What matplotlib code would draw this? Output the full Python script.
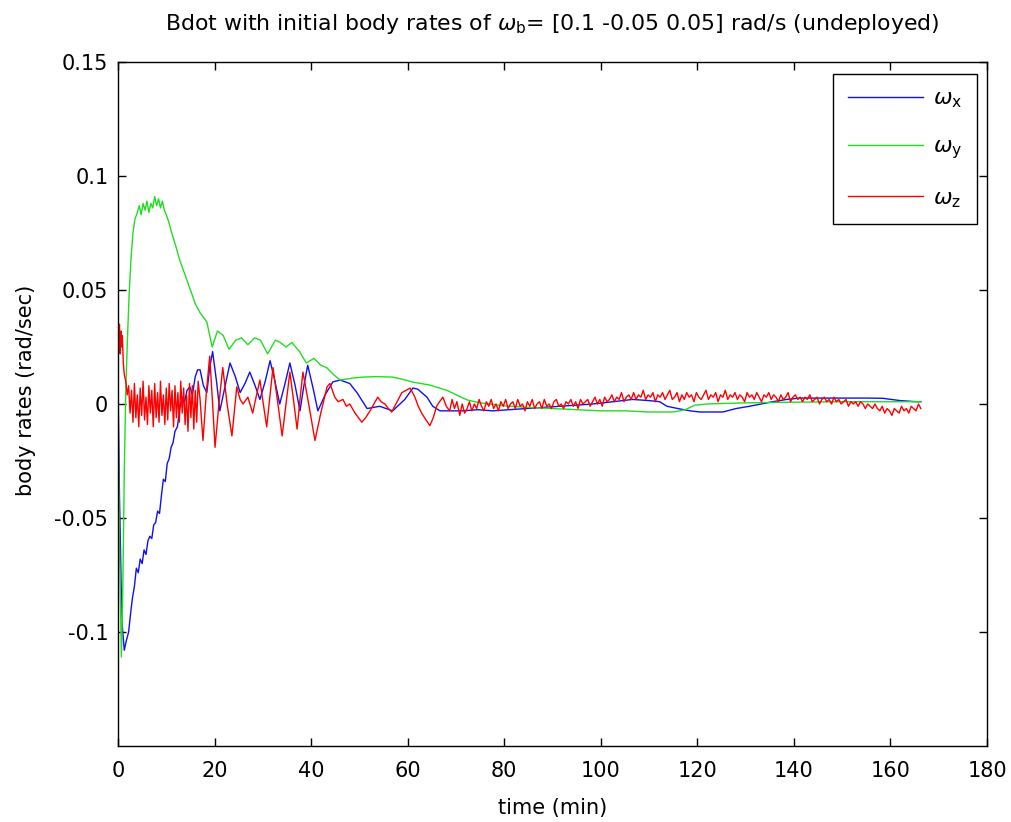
import numpy as np
import matplotlib
matplotlib.use("Agg")
import matplotlib.pyplot as plt

plt.rcParams['font.family'] = ['DejaVu Sans']
plt.rcParams['mathtext.fontset'] = 'dejavusans'

# ---------------- data ----------------
# omega_x (blue)
t_x = [0.0, 0.3, 0.8, 1.3, 1.7, 2.2, 2.6, 3.0, 3.4, 3.8,
       4.2, 4.6, 5.0, 5.4, 5.8, 6.2, 6.6, 7.0, 7.4, 7.8,
       8.2, 8.6, 9.0, 9.4, 9.8, 10.2, 10.6, 11.0, 11.4, 11.8,
       12.3, 12.8, 13.3, 13.8, 14.3, 14.9, 15.4, 16.0, 16.5, 17.0,
       17.7, 18.4, 19.0, 19.6, 20.4, 21.1, 22.2, 23.2, 24.3, 25.3,
       26.3, 27.3, 28.4, 29.4, 30.5, 31.5, 32.5, 33.5, 34.6, 35.6,
       36.7, 37.7, 38.5, 39.3, 40.4, 41.4, 42.9, 44.5, 46.0, 48.0,
       49.5, 51.6, 54.2, 56.9, 59.4, 61.1, 62.1, 64.0, 65.2, 66.7,
       69.0, 71.4, 74.5, 77.6, 81.0, 84.5, 88.0, 91.5, 95.0, 98.3,
       102.5, 106.6, 110.0, 112.2, 113.7, 116.0, 118.5, 120.5, 123.0, 125.3,
       128.0, 130.8, 133.2, 135.6, 138.5, 141.2, 146.0, 151.6, 155.0, 158.4,
       162.0, 165.4, 166.3]
w_x = [0.010, -0.040, -0.095, -0.108, -0.104, -0.100, -0.092, -0.085, -0.080, -0.072,
       -0.074, -0.068, -0.070, -0.064, -0.066, -0.060, -0.058, -0.059, -0.053, -0.052,
       -0.047, -0.048, -0.040, -0.033, -0.034, -0.026, -0.024, -0.019, -0.017, -0.012,
       -0.010, -0.002, 0.003, 0.001, 0.006, 0.0075, 0.004, 0.012, 0.015, 0.015,
       0.008, 0.005, 0.016, 0.023, 0.010, -0.003, 0.008, 0.018, 0.012, 0.005,
       0.009, 0.014, 0.008, 0.002, 0.010, 0.019, 0.010, 0.000, 0.009, 0.018,
       0.008, -0.003, 0.008, 0.017, 0.007, -0.003, 0.004, 0.0097, 0.0105, 0.009,
       0.005, -0.002, -0.001, -0.003, 0.002, 0.007, 0.0065, 0.003, -0.001, -0.003,
       -0.003, -0.003, -0.0025, -0.003, -0.0025, -0.002, -0.0015, -0.001, -0.0005, 0.0,
       0.001, 0.002, 0.0015, 0.001, -0.001, -0.002, -0.003, -0.0035, -0.0035, -0.0035,
       -0.002, -0.001, 0.0, 0.001, 0.002, 0.0026, 0.0026, 0.0026, 0.0026, 0.0025,
       0.0015, 0.001, 0.001]

# omega_y (green)
t_y = [0.0, 0.3, 0.7, 1.0, 1.3, 1.6, 1.9, 2.3, 2.7, 3.1,
       3.5, 4.0, 4.4, 4.8, 5.2, 5.6, 6.0, 6.4, 6.8, 7.2,
       7.6, 8.0, 8.4, 8.8, 9.2, 9.6, 10.0, 10.5, 11.0, 12.0,
       12.8, 14.0, 15.0, 16.0, 17.0, 18.4, 19.5, 20.6, 21.8, 23.0,
       24.4, 25.6, 26.9, 28.3, 29.5, 31.0, 32.6, 33.6, 34.8, 36.0,
       37.6, 39.0, 40.6, 42.0, 43.2, 44.6, 46.0, 48.7, 50.7, 53.5,
       56.9, 59.0, 61.1, 64.6, 68.1, 72.3, 75.0, 80.0, 85.0, 90.0,
       95.0, 100.0, 105.0, 110.0, 115.0, 117.5, 119.5, 122.0, 125.0, 130.0,
       140.0, 150.0, 160.0, 166.3]
w_y = [0.000, -0.060, -0.111, -0.080, -0.030, 0.005, 0.025, 0.048, 0.064, 0.075,
       0.081, 0.084, 0.087, 0.083, 0.088, 0.085, 0.089, 0.084, 0.088, 0.086,
       0.091, 0.087, 0.090, 0.086, 0.089, 0.085, 0.083, 0.080, 0.076, 0.069,
       0.063, 0.056, 0.050, 0.044, 0.040, 0.036, 0.025, 0.032, 0.030, 0.024,
       0.028, 0.029, 0.026, 0.029, 0.028, 0.022, 0.028, 0.027, 0.025, 0.027,
       0.023, 0.018, 0.020, 0.017, 0.016, 0.013, 0.0105, 0.0114, 0.0118, 0.0120,
       0.0118, 0.0108, 0.0096, 0.0083, 0.0060, 0.0018, 0.0005, -0.0008, -0.0015, -0.0020,
       -0.0025, -0.0030, -0.0030, -0.0035, -0.0035, -0.0025, -0.0005, 0.0000, 0.0002, 0.0005,
       0.0008, 0.0010, 0.0010, 0.0010]

# omega_z (red) - start, oscillating part, then sampled noisy tail
t_z_a = [0.0, 0.15, 0.3, 0.45, 0.6, 0.75, 0.9, 1.1, 1.3, 1.6, 1.9]
w_z_a = [0.033, 0.024, 0.035, 0.022, 0.032, 0.025, 0.030, 0.018, 0.013, 0.010, 0.004]

t_z_b0, t_z_bstep = 2.2, 0.3
w_z_b = [0.008, -0.004, 0.006, -0.008, 0.009, -0.006, 0.004, -0.010, 0.007, -0.005,
         0.010, -0.007, 0.003, -0.009, 0.008, -0.004, 0.006, -0.010, 0.009, -0.006,
         0.005, -0.008, 0.010, -0.005, 0.004, -0.009, 0.007, -0.007, 0.009, -0.003,
         0.006, -0.010, 0.008, -0.006, 0.005, -0.008, 0.010, -0.004, 0.007, -0.009,
         0.004, -0.012, 0.009, -0.006, 0.008, -0.011, 0.006, -0.008, 0.010]

t_z_c = [17.0, 17.6, 18.3, 19.0, 19.6, 20.1, 20.9, 21.7, 22.6, 23.6,
         24.6, 25.3, 25.9, 26.9, 27.9, 28.7, 29.4, 30.1, 30.8, 31.5,
         32.1, 33.0, 34.0, 34.8, 35.6, 36.4, 37.1, 37.7, 38.3, 39.5,
         40.8, 42.0, 43.3, 43.9, 44.9, 45.6, 46.6, 47.3, 48.0, 49.1,
         50.5, 51.3, 52.2, 53.0, 53.8, 54.5, 55.3, 56.0, 56.7, 57.8,
         58.8, 59.7, 60.5, 61.5, 62.2, 62.9, 63.8, 64.6, 65.3, 66.0,
         66.6, 67.3, 68.0, 68.7, 69.2, 69.7, 70.2, 70.8, 71.3, 71.8]
w_z_c = [0.002, -0.016, 0.005, 0.021, 0.000, -0.019, 0.000, 0.016, 0.000, -0.014,
         0.0075, 0.002, 0.000, 0.003, -0.004, 0.004, 0.0105, 0.000, -0.010, 0.004,
         0.016, 0.002, -0.014, 0.000, 0.014, 0.001, -0.011, 0.002, 0.014, 0.000,
         -0.016, -0.004, 0.0075, 0.009, 0.003, 0.001, 0.002, -0.001, 0.000, -0.004,
         -0.008, -0.006, -0.003, 0.000, 0.003, 0.001, 0.000, -0.002, -0.0035, 0.001,
         0.005, 0.006, 0.007, 0.003, -0.001, -0.004, -0.007, -0.0095, -0.006, -0.001,
         0.001, 0.003, -0.001, -0.003, 0.002, -0.002, 0.001, -0.005, 0.000, -0.004]

t_z_d0, t_z_dstep = 72.3, 0.5
w_z_d = [-0.002, 0.001, -0.003, 0.000, -0.002, 0.002, -0.001, -0.003, 0.001, -0.001,
         0.002, -0.002, 0.000, -0.003, 0.001, -0.001, 0.002, -0.002, 0.000, 0.001,
         -0.002, 0.002, -0.001, 0.000, -0.003, 0.001, -0.001, 0.002, -0.002, 0.000,
         0.001, -0.002, 0.002, -0.001, 0.000, -0.002, 0.001, 0.002, -0.001, 0.000,
         -0.002, 0.001, 0.000, 0.002, -0.001, 0.001, -0.002, 0.002, 0.000, 0.001,
         0.002, -0.001, 0.001, 0.003, 0.000, 0.002, -0.001, 0.003, 0.001, 0.002,
         0.004, 0.001, 0.003, 0.002, 0.005, 0.001, 0.003, 0.004, 0.002, 0.005,
         0.002, 0.004, 0.003, 0.006, 0.002, 0.004, 0.003, 0.005, 0.001, 0.004,
         0.003, 0.005, 0.002, 0.004, 0.006, 0.002, 0.003, 0.005, 0.001, 0.004,
         0.002, 0.005, 0.003, 0.004, 0.001, 0.005, 0.003, 0.002, 0.004, 0.006,
         0.002, 0.004, 0.003, 0.005, 0.001, 0.004, 0.003, 0.006, 0.002, 0.004,
         0.003, 0.005, 0.002, 0.004, 0.003, 0.001, 0.005, 0.003, 0.004, 0.002,
         0.005, 0.003, 0.001, 0.004, 0.003, 0.005, 0.002, 0.004, 0.003, 0.001,
         0.004, 0.002, 0.003, 0.005, 0.001, 0.003, 0.004, 0.002, 0.003, 0.001,
         0.003, 0.002, 0.004, 0.001, 0.002, 0.003, 0.000, 0.002, 0.003, 0.001,
         0.002, 0.000, 0.003, 0.001, 0.002, 0.000, 0.001, 0.002, -0.001, 0.001,
         0.000, 0.001, -0.001, 0.001, 0.000, -0.002, 0.000, -0.001, -0.002, 0.000,
         -0.002, -0.003, -0.001, -0.004, -0.002, -0.003, -0.005, -0.002, -0.003, -0.004,
         -0.001, -0.003, -0.002, -0.004, -0.001, -0.002, -0.003, 0.000, -0.002]

x_ticks = [0, 20, 40, 60, 80, 100, 120, 140, 160, 180]
y_ticks = [-0.1, -0.05, 0, 0.05, 0.1, 0.15]
y_tick_labels = ['-0.1', '-0.05', '0', '0.05', '0.1', '0.15']
labels = [r'$\omega_\mathrm{x}$', r'$\omega_\mathrm{y}$', r'$\omega_\mathrm{z}$']

# ---------------- assemble red series ----------------
t_z = np.concatenate([
    t_z_a,
    t_z_b0 + t_z_bstep * np.arange(len(w_z_b)),
    t_z_c,
    t_z_d0 + t_z_dstep * np.arange(len(w_z_d)),
])
w_z = np.concatenate([w_z_a, w_z_b, w_z_c, w_z_d])

# ---------------- figure ----------------
fig = plt.figure(figsize=(10.11, 8.22), dpi=100)
ax = fig.add_axes([118 / 1011, 1 - 746 / 822, (987 - 118) / 1011, (746 - 62) / 822])

ax.plot(t_x, w_x, color='#1010ee', lw=1.0, label=labels[0])
ax.plot(t_y, w_y, color='#22dd22', lw=1.0, label=labels[1])
ax.plot(t_z, w_z, color='#ff0000', lw=1.0, label=labels[2])

ax.set_xlim(0, 180)
ax.set_ylim(-0.15, 0.15)
ax.set_xticks(x_ticks)
ax.set_xticklabels([str(v) for v in x_ticks])
ax.set_yticks(y_ticks)
ax.set_yticklabels(y_tick_labels)
ax.tick_params(direction='in', length=6, width=1, top=True, right=True,
               labelsize=15)
ax.tick_params(axis='x', pad=11)
ax.tick_params(axis='y', pad=7)
for s in ax.spines.values():
    s.set_linewidth(1.0)

ax.set_xlabel('time (min)', fontsize=15)
ax.xaxis.set_label_coords(0.5, -0.076)
ax.set_ylabel('body rates (rad/sec)', fontsize=15)
ax.yaxis.set_label_coords(-0.094, 0.52)
ax.set_title(r'Bdot with initial body rates of $\omega_\mathrm{b}$= [0.1 -0.05 0.05] rad/s (undeployed)',
             fontsize=15.8, pad=23)

leg = ax.legend(loc='upper right', bbox_to_anchor=(0.9885, 0.9825), borderaxespad=0,
                fontsize=16, frameon=True, fancybox=False, edgecolor='black', framealpha=1,
                handlelength=3.4, labelspacing=1.2, borderpad=0.65, handletextpad=0.45)
leg.get_frame().set_linewidth(1.0)

fig.savefig('out.png', dpi=100)
